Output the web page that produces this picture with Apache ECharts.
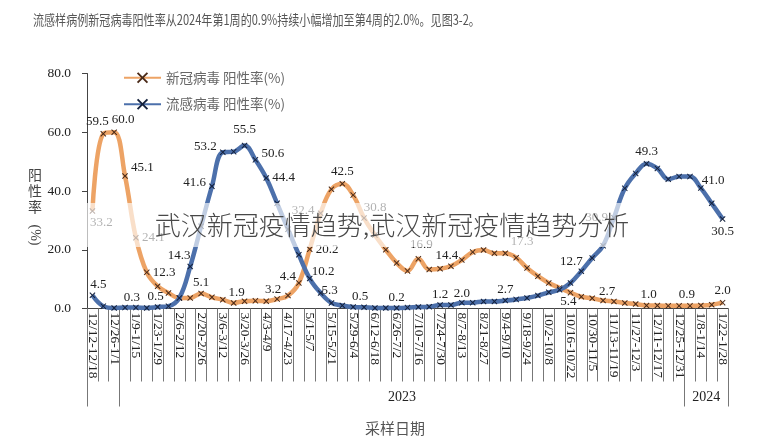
<!DOCTYPE html>
<html><head><meta charset="utf-8">
<script src="https://cdn.jsdelivr.net/npm/echarts@6/dist/echarts.min.js"></script>
<style>html,body{margin:0;padding:0;background:#fff}#c{width:780px;height:436px}</style>
</head><body><div id="c"></div>
<script>
// ---- data ----
const categories = ['12/12-12/18','12/19-12/25','12/26-1/1','1/2-1/8','1/9-1/15','1/16-1/22','1/23-1/29','1/30-2/5','2/6-2/12','2/13-2/19','2/20-2/26','2/27-3/5','3/6-3/12','3/13-3/19','3/20-3/26','3/27-4/2','4/3-4/9','4/10-4/16','4/17-4/23','4/24-4/30','5/1-5/7','5/8-5/14','5/15-5/21','5/22-5/28','5/29-6/4','6/5-6/11','6/12-6/18','6/19-6/25','6/26-7/2','7/3-7/9','7/10-7/16','7/17-7/23','7/24-7/30','7/31-8/6','8/7-8/13','8/14-8/20','8/21-8/27','8/28-9/3','9/4-9/10','9/11-9/17','9/18-9/24','9/25-10/1','10/2-10/8','10/9-10/15','10/16-10/22','10/23-10/29','10/30-11/5','11/6-11/12','11/13-11/19','11/20-11/26','11/27-12/3','12/4-12/10','12/11-12/17','12/18-12/24','12/25-12/31','1/1-1/7','1/8-1/14','1/15-1/21','1/22-1/28'];
const covidRate = [33.2,59.5,60.0,45.1,24.1,12.3,7.6,5.3,3.6,3.6,5.1,3.8,3.0,1.9,2.5,2.6,2.5,3.2,4.4,8.7,20.2,32.4,40.6,42.5,38.6,30.8,25.0,20.0,15.5,12.8,16.9,13.3,13.5,14.4,16.5,19.2,19.9,18.8,18.8,17.3,13.8,11.0,8.7,7.0,5.4,4.0,3.5,2.7,2.4,1.9,1.5,1.0,1.0,0.9,0.9,0.9,1.0,1.3,2.0];
const fluRate = [4.5,0.8,0.2,0.3,0.3,0.2,0.5,0.8,3.6,14.3,28.0,41.6,53.2,53.4,55.5,50.6,44.4,35.8,27.0,18.3,10.2,5.3,1.9,1.0,0.5,0.4,0.2,0.2,0.2,0.3,0.5,0.6,1.2,1.2,2.0,2.0,2.4,2.4,2.7,3.1,3.6,4.4,5.5,6.4,8.7,12.7,17.2,21.4,30.9,40.9,46.0,49.3,47.7,44.0,44.9,44.9,41.0,35.8,30.5];
const seriesNames = ['新冠病毒 阳性率(%)','流感病毒 阳性率(%)'];
const yearLabels = ['2023','2024'];
const yearStart = [3,55];
const yearEnd = [55,59];
const yTicks = [0,20,40,60,80];

// ---- label placement (style, not data) ----
const covidLbl = {0:['bottom',[9,-1]],1:['top',[-6,0]],2:['top',[9,0]],3:['right',[0,-8]],4:['right',[0,0]],5:['right',[0,0]],
  10:['top',[0,2]],13:['top',[3,2]],17:['top',[-4,3]],18:['top',[0,-6]],20:['right',[0,0]],21:['left',[0,-3]],23:['top',[0,0]],
  25:['top',[11,2]],30:['top',[3,-2]],33:['top',[-4,2]],39:['top',[6,-4]],44:['bottom',[-2,-4]],47:['top',[4,4]],51:['top',[2,2]],55:['top',[-3,1]],58:['top',[0,0]]};
const fluLbl = {0:['top',[6,2]],4:['top',[-4,2]],6:['top',[-2,2]],9:['top',[-11,2]],11:['left',[0,-4]],12:['left',[0,-6]],14:['top',[0,-3]],
  15:['right',[0,-6]],16:['right',[0,0]],20:['right',[-4,-7]],21:['right',[-5,-2]],24:['top',[7,2]],28:['top',[0,2]],32:['top',[0,2]],
  34:['top',[0,3]],38:['top',[0,2]],45:['top',[-10,3]],48:['left',[0,0]],51:['top',[0,0]],56:['right',[-5,-7]],58:['bottom',[0,0]]};

const X_PATH = 'path://M0,1.2L1.2,0L5,3.8L8.8,0L10,1.2L6.2,5L10,8.8L8.8,10L5,6.2L1.2,10L0,8.8L3.8,5Z';
const serif = '"Liberation Serif","DejaVu Serif",serif';
const cjk = '"Noto Sans CJK SC","Noto Sans",sans-serif';

function build(vals, lbl){
  return vals.map((v,i)=>{
    const c = lbl[i];
    if(!c) return v;
    return {value:v,label:{show:true,position:c[0],offset:c[1]}};
  });
}
const yearCenters = yearLabels.map((_,k)=>(yearStart[k]+yearEnd[k])/2);
const yearTicks = [0].concat(yearStart, [yearEnd[yearEnd.length-1]]);

const chart = echarts.init(document.getElementById('c'), null, {renderer:'canvas'});
const lblStyle = {show:false, fontFamily:serif, fontSize:13, color:'#222', distance:3, formatter:p=>p.value.toFixed(1)};
chart.setOption({
  animation:false,
  grid:{left:87,right:52,top:73.5,bottom:127.5,containLabel:false},
  legend:{orient:'vertical',left:118,top:66,itemWidth:37,itemHeight:14,itemGap:13,
    textStyle:{fontFamily:cjk,fontSize:13.5,color:'#666'},data:seriesNames},
  xAxis:[{
    type:'category',data:categories,boundaryGap:true,position:'bottom',
    axisLine:{lineStyle:{color:'#444',width:1}},
    axisTick:{show:true,interval:0,alignWithLabel:false,length:73,lineStyle:{color:'#777'}},
    axisLabel:{interval:1,rotate:-90,margin:4,fontFamily:serif,fontSize:13.5,color:'#222'},
    splitLine:{show:false}
  },{
    type:'value',min:0,max:categories.length,position:'bottom',
    axisLine:{show:false},splitLine:{show:false},
    axisTick:{show:true,customValues:yearTicks,length:98,lineStyle:{color:'#777'}},
    axisLabel:{show:true,customValues:yearCenters,margin:82,fontFamily:serif,fontSize:14,color:'#222',
      formatter:v=>{const k=yearCenters.indexOf(v);return k>=0?yearLabels[k]:'';}}
  }],
  yAxis:{type:'value',min:yTicks[0],max:yTicks[yTicks.length-1],interval:20,
    axisLine:{show:true,lineStyle:{color:'#444'}},
    axisTick:{show:true,length:5,lineStyle:{color:'#444'}},
    axisLabel:{margin:16,fontFamily:serif,fontSize:13.5,color:'#222',formatter:v=>v.toFixed(1)},
    splitLine:{show:false}},
  series:[{
    name:seriesNames[0],type:'line',xAxisIndex:0,smooth:0.4,data:build(covidRate,covidLbl),
    symbol:X_PATH,symbolSize:6,
    lineStyle:{color:'#EDA365',width:4.5},itemStyle:{color:'#4a2a18'},
    label:lblStyle,z:2
  },{
    name:seriesNames[1],type:'line',xAxisIndex:0,smooth:0.4,data:build(fluRate,fluLbl),
    symbol:X_PATH,symbolSize:6,
    lineStyle:{color:'#4C70AB',width:4.5},itemStyle:{color:'#14213d'},
    label:lblStyle,z:3
  }],
  graphic:[
    {type:'text',x:33,y:20,scaleX:0.79,z:200,style:{text:'流感样病例新冠病毒阳性率从2024年第1周的0.9%持续小幅增加至第4周的2.0%。见图3-2。',
      font:'14px '+cjk,fill:'#555',verticalAlign:'middle',align:'left'}},
    {type:'text',x:35,y:167,z:200,style:{text:'阳\n性\n率',font:'14px '+cjk,fill:'#444',align:'center',verticalAlign:'top',lineHeight:16}},
    {type:'text',x:35,y:235,rotation:-Math.PI/2,z:200,style:{text:'(%)',font:'14px '+serif,fill:'#444',align:'center',verticalAlign:'middle'}},
    {type:'text',x:395,y:428,z:200,style:{text:'采样日期',font:'15px '+cjk,fill:'#555',align:'center',verticalAlign:'middle'}},
    {type:'rect',z:150,shape:{x:86,y:203,width:612,height:44},style:{fill:'rgba(255,255,255,0.65)'}},
    {type:'text',x:392,y:225,z:160,style:{text:'武汉新冠疫情趋势,武汉新冠疫情趋势分析',font:'300 26px '+cjk,fill:'#484848',align:'center',verticalAlign:'middle'}}
  ]
});
</script></body></html>
